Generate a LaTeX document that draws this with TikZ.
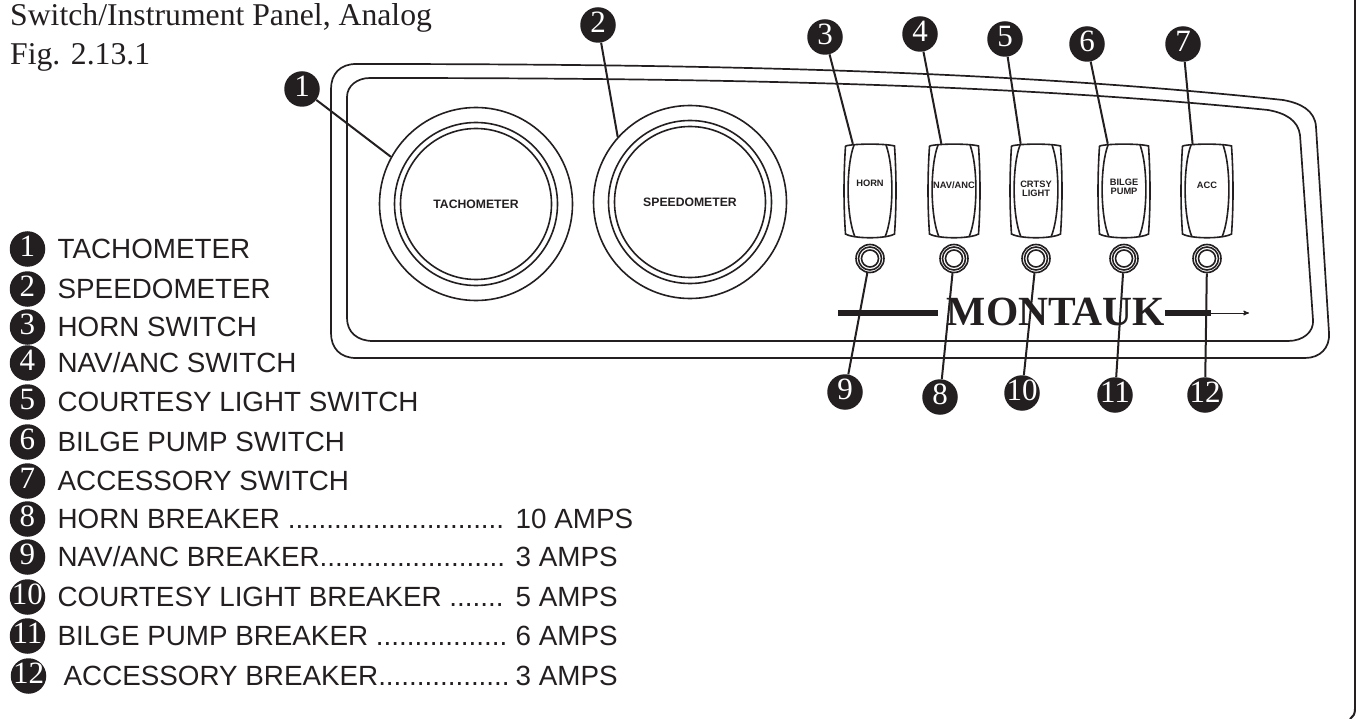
\documentclass[tikz,border=0pt]{standalone}
\usepackage{fontspec}
\setmainfont{Liberation Serif}
\setsansfont{Liberation Sans}
\usetikzlibrary{arrows,positioning}
\definecolor{ink}{HTML}{231F20}
\newcommand{\badgenum}[1]{\smash{\raisebox{-7.5pt}{#1}}}
\tikzset{
	rocker/.pic={
		\draw[line width=1.6pt] (-24.5,-45) .. controls (-16,-47.5) and (16,-47.5) .. (24.5,-45)
			.. controls (26.5,-15) and (26.5,15) .. (24.5,43)
			.. controls (16,48) and (-16,48) .. (-24.5,43)
			.. controls (-26.5,15) and (-26.5,-15) .. (-24.5,-45);
		\draw[line width=1.6pt] (-16,-46) .. controls (-24,-25) and (-24,25) .. (-15,46);
		\draw[line width=1.6pt] (16,-46) .. controls (24,-25) and (24,25) .. (15,46);
	}
}
\begin{document}
\begin{tikzpicture}[x=1pt,y=-1pt,>=stealth',color=ink,node distance=12pt,every edge/.style={draw,line width=2pt}]
		\tikzstyle{badge}=[circle,fill=ink,text=white,minimum size=35.5pt,inner sep=0pt,font=\rmfamily\fontsize{31}{31}\selectfont]
		\tikzstyle{ring}=[circle,draw,line width=1.6pt,inner sep=0pt]
		\tikzstyle{ledring}=[circle,draw,line width=1.6pt,inner sep=0pt]
		\tikzstyle{dial}=[font=\sffamily\bfseries\fontsize{12.2}{12.2}\selectfont]
		\tikzstyle{swcap}=[font=\sffamily\bfseries\fontsize{9.3}{9.3}\selectfont,align=center,inner sep=0pt]
		\tikzstyle{item}=[font=\sffamily\fontsize{27.8}{27.8}\selectfont,inner sep=0pt]
		\tikzstyle{title}=[font=\rmfamily\fontsize{31.7}{31.7}\selectfont,anchor=base west,inner sep=0pt]
		\useasboundingbox (0,0) rectangle (1356,719);
		\node[title] (T1) at (10,26) {Switch/Instrument Panel, Analog};
		\node[title] (T2) at (10,65) {Fig. 2.13.1};
		% page edge
		\coordinate (ea) at (1355,0);
		\coordinate (eb) at (1355,709);
		\coordinate (ec) at (1350,719);
		\draw[line width=2pt] (ea) -- (eb) .. controls (1355,714) and (1353,717) .. (ec);
		% panel
		\draw[line width=1.7pt] (356,64) .. controls (700,64) and (1000,70) .. (1283,100)
			.. controls (1300,103) and (1315,110) .. (1316,127)
			-- (1329,333) .. controls (1330,348) and (1320,358) .. (1305,358)
			-- (356,358) .. controls (340,358) and (331,348) .. (331,333)
			-- (331,89) .. controls (331,74) and (340,64) .. (356,64) -- cycle;
		\draw[line width=1.7pt] (370,78) .. controls (700,78) and (1000,83) .. (1268,110)
			.. controls (1285,113) and (1298,120) .. (1300,135)
			-- (1313,320) .. controls (1314,332) and (1303,341) .. (1288,341)
			-- (373,341) .. controls (357,341) and (347,332) .. (347,318)
			-- (347,97) .. controls (347,86) and (357,78) .. (370,78) -- cycle;
		% gauges
		\node[ring,minimum size=193pt] (gt) at (476,204) {};
		\node[ring,minimum size=163pt] (gtm) at (gt) {};
		\node[ring,minimum size=151pt,dial] (gti) at (gt) {TACHOMETER};
		\node[ring,minimum size=193pt] (gs) at (690,202) {};
		\node[ring,minimum size=163pt] (gsm) at (gs) {};
		\node[ring,minimum size=151pt,dial] (gsi) at (gs) {SPEEDOMETER};
		% switches and breakers
		\foreach \n/\x/\b in {3/870/9,4/954/8,5/1036/10,6/1124/11,7/1207/12} {
			\node[minimum width=51pt,minimum height=94pt,inner sep=0pt] (sw\n) at (\x,191) {};
			\pic at (sw\n) {rocker};
			\node[ledring,minimum size=28pt] (led\b) at (\x,258.5) {};
			\node[ledring,minimum size=23pt] (ledm\b) at (led\b) {};
			\node[ledring,minimum size=17pt] (ledi\b) at (led\b) {};
		}
		\node[swcap] (c3) at (870,183.5) {HORN};
		\node[swcap] (c4) at (954,185) {NAV/ANC};
		\node[swcap] (c5) at (1036,189) {CRTSY\\[-.4pt]LIGHT};
		\node[swcap] (c6) at (1124,187) {BILGE\\[-.4pt]PUMP};
		\node[swcap] (c7) at (1207,185) {ACC};
		% brand
		\node[font=\rmfamily\bfseries\fontsize{41.5}{41.5}\selectfont,anchor=base,inner sep=0pt] (brand) at (1056,325) {MONTAUK};
		\coordinate (ba) at (838,313);
		\coordinate (bb) at (938,313);
		\coordinate (bc) at (1165,313);
		\coordinate (bd) at (1211,313);
		\coordinate (be) at (1249,313);
		\draw[line width=6pt] (ba) -- (bb);
		\draw[line width=6pt] (bc) -- (bd);
		\draw[->,line width=1pt] (bd) -- (be);
		% callouts
		\node[badge] (b1) at (302,89) {\badgenum{1}};
		\node[badge] (b2) at (598,25) {\badgenum{2}};
		\node[badge] (b3) at (825,37) {\badgenum{3}};
		\node[badge] (b4) at (920,34) {\badgenum{4}};
		\node[badge] (b5) at (1005,39) {\badgenum{5}};
		\node[badge] (b6) at (1087,44) {\badgenum{6}};
		\node[badge] (b7) at (1183,44) {\badgenum{7}};
		\node[badge] (b9) at (845,392) {\badgenum{9}};
		\node[badge] (b8) at (940,397) {\badgenum{8}};
		\node[badge] (b10) at (1022,393) {\badgenum{10}};
		\node[badge] (b11) at (1115,395) {\badgenum{11}};
		\node[badge] (b12) at (1205,395) {\badgenum{12}};
		\path
		(b1) edge (gt.151)
		(b2) edge (gs.138)
		(b3) edge (sw3.110)
		(b4) edge (sw4.105)
		(b5) edge (sw5.108)
		(b6) edge (sw6.109)
		(b7) edge (sw7.107)
		(b9) edge (led9)
		(b8) edge (led8)
		(b10) edge (led10)
		(b11) edge (led11)
		(b12) edge (led12);
		% legend
		\node[badge] (l1) at (27.5,249) {\badgenum{1}};
		\node[badge] (l2) at (27.5,289) {\badgenum{2}};
		\node[badge] (l3) at (27.5,327) {\badgenum{3}};
		\node[badge] (l4) at (27.5,363) {\badgenum{4}};
		\node[badge] (l5) at (27.5,402) {\badgenum{5}};
		\node[badge] (l6) at (27.5,442) {\badgenum{6}};
		\node[badge] (l7) at (27.5,481) {\badgenum{7}};
		\node[badge] (l8) at (27.5,519) {\badgenum{8}};
		\node[badge] (l9) at (27.5,557) {\badgenum{9}};
		\node[badge] (l10) at (27.5,597) {\badgenum{10}};
		\node[badge] (l11) at (27.5,636) {\badgenum{11}};
		\node[badge] (l12) at (28.5,676) {\badgenum{12}};
		\node[item,right=of l1] (t1) {TACHOMETER};
		\node[item,right=of l2] (t2) {SPEEDOMETER};
		\node[item,right=of l3] (t3) {HORN SWITCH};
		\node[item,right=of l4] (t4) {NAV/ANC SWITCH};
		\node[item,right=of l5] (t5) {COURTESY LIGHT SWITCH};
		\node[item,right=of l6] (t6) {BILGE PUMP SWITCH};
		\node[item,right=of l7] (t7) {ACCESSORY SWITCH};
		\node[item,right=of l8] (t8) {HORN BREAKER ............................};
		\node[item,right=of l9] (t9) {NAV/ANC BREAKER........................};
		\node[item,right=of l10] (t10) {COURTESY LIGHT BREAKER .......};
		\node[item,right=of l11] (t11) {BILGE PUMP BREAKER .................};
		\node[item,right=17pt of l12] (t12) {ACCESSORY BREAKER.................};
		\node[item,anchor=west] (a8) at (515.5,519) {10 AMPS};
		\node[item,anchor=west] (a9) at (515.5,557) {3 AMPS};
		\node[item,anchor=west] (a10) at (515.5,597) {5 AMPS};
		\node[item,anchor=west] (a11) at (515.5,636) {6 AMPS};
		\node[item,anchor=west] (a12) at (515.5,676) {3 AMPS};
		\end{tikzpicture}
\end{document}
